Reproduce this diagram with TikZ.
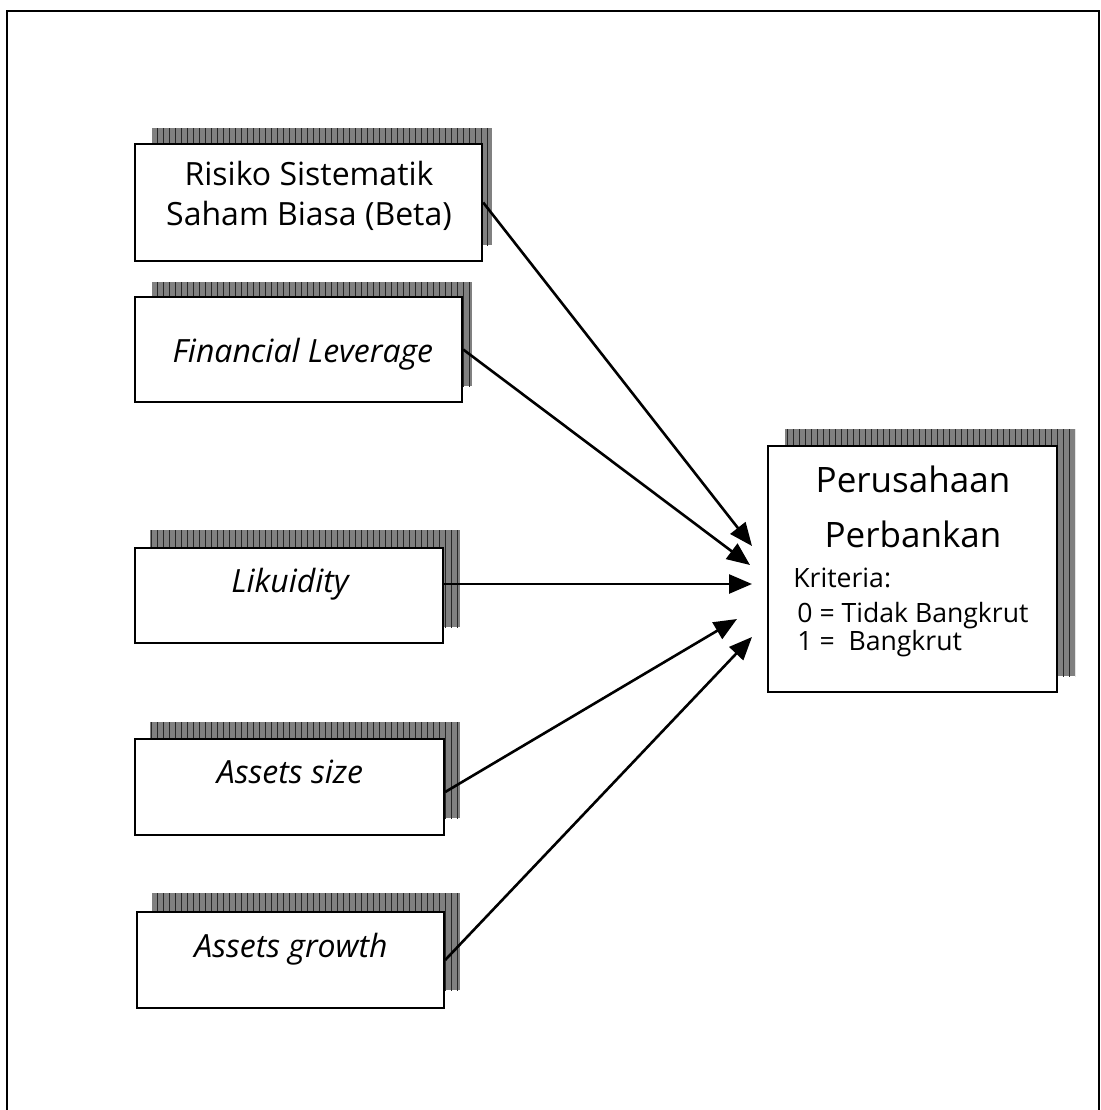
\documentclass[tikz,border=0pt]{standalone}
\usepackage{fontspec}
\setmainfont{Open Sans}
\usetikzlibrary{arrows.meta,patterns}
\begin{document}
\begin{tikzpicture}[x=0.5pt,y=-0.5pt,
  frame/.style={line width=1pt},
  shadowbox/.style={fill=black!50,postaction={pattern=vertical lines,pattern color=black!85}},
  varbox/.style={draw,line width=1.2pt,fill=white,inner sep=0pt},
  lbl/.style={anchor=base,inner sep=0pt,font=\fontsize{16}{19}\selectfont},
  itlbl/.style={lbl,font=\fontsize{16}{19}\selectfont\itshape},
  small/.style={lbl,anchor=base west,font=\fontsize{13.3}{16}\selectfont},
  big/.style={lbl,font=\fontsize{17.5}{21}\selectfont},
  arr/.style={line width=1.3pt,-{Triangle[length=11.5pt,width=9.5pt]}}]
\useasboundingbox (0,0) rectangle (1100,1110);
\draw[frame] (7,1110) -- (7,11) -- (1099,11) -- (1099,1110);
% shadows
\path[shadowbox] (152,128) rectangle (492,245);
\path[shadowbox] (152,282) rectangle (472,386);
\path[shadowbox] (150,530) rectangle (460,627);
\path[shadowbox] (150,722) rectangle (460,818);
\path[shadowbox] (152,893) rectangle (460,990);
\path[shadowbox] (785,429) rectangle (1075,676);
% boxes
\node[varbox,minimum width=173.5pt,minimum height=58.5pt] (b1) at (308.5,202.5) {};
\node[varbox,minimum width=163.5pt,minimum height=52.5pt] (b2) at (298.5,349.5) {};
\node[varbox,minimum width=154pt,minimum height=47.5pt] (b3) at (289,595.5) {};
\node[varbox,minimum width=154.5pt,minimum height=48pt] (b4) at (289.5,787) {};
\node[varbox,minimum width=153.5pt,minimum height=48pt] (b5) at (290.5,960) {};
\node[varbox,minimum width=144.5pt,minimum height=123pt] (r) at (912.5,569) {};
% texts
\node[lbl] (b1t1) at (309,185) {Risiko Sistematik};
\node[lbl] (b1t2) at (309,225) {Saham Biasa (Beta)};
\node[itlbl] (b2t) at (303,362) {Financial Leverage};
\node[itlbl] (b3t) at (290,592) {Likuidity};
\node[itlbl] (b4t) at (290,783) {Assets size};
\node[itlbl] (b5t) at (291,957) {Assets growth};
\node[big] (rt1) at (913,492) {Perusahaan};
\node[big] (rt2) at (913,547) {Perbankan};
\node[small] (rt3) at (793,587) {Kriteria:};
\node[small] (rt4) at (797,622) {0 = Tidak Bangkrut};
\node[small] (rt5) at (797,650) {1 =\ \ Bangkrut};
% arrow targets
\coordinate (t1) at (752,546);
\coordinate (t2) at (750,565);
\coordinate (t3) at (752,584);
\coordinate (t4) at (737,619);
\coordinate (t5) at (752,637);
\draw[arr] (b1.east) -- (t1);
\draw[arr] (b2.east) -- (t2);
\draw[arr] (b3.east |- t3) -- (t3);
\draw[arr] ([yshift=-2.5pt]b4.east) -- (t4);
\draw[arr] (b5.east) -- (t5);
\end{tikzpicture}
\end{document}
